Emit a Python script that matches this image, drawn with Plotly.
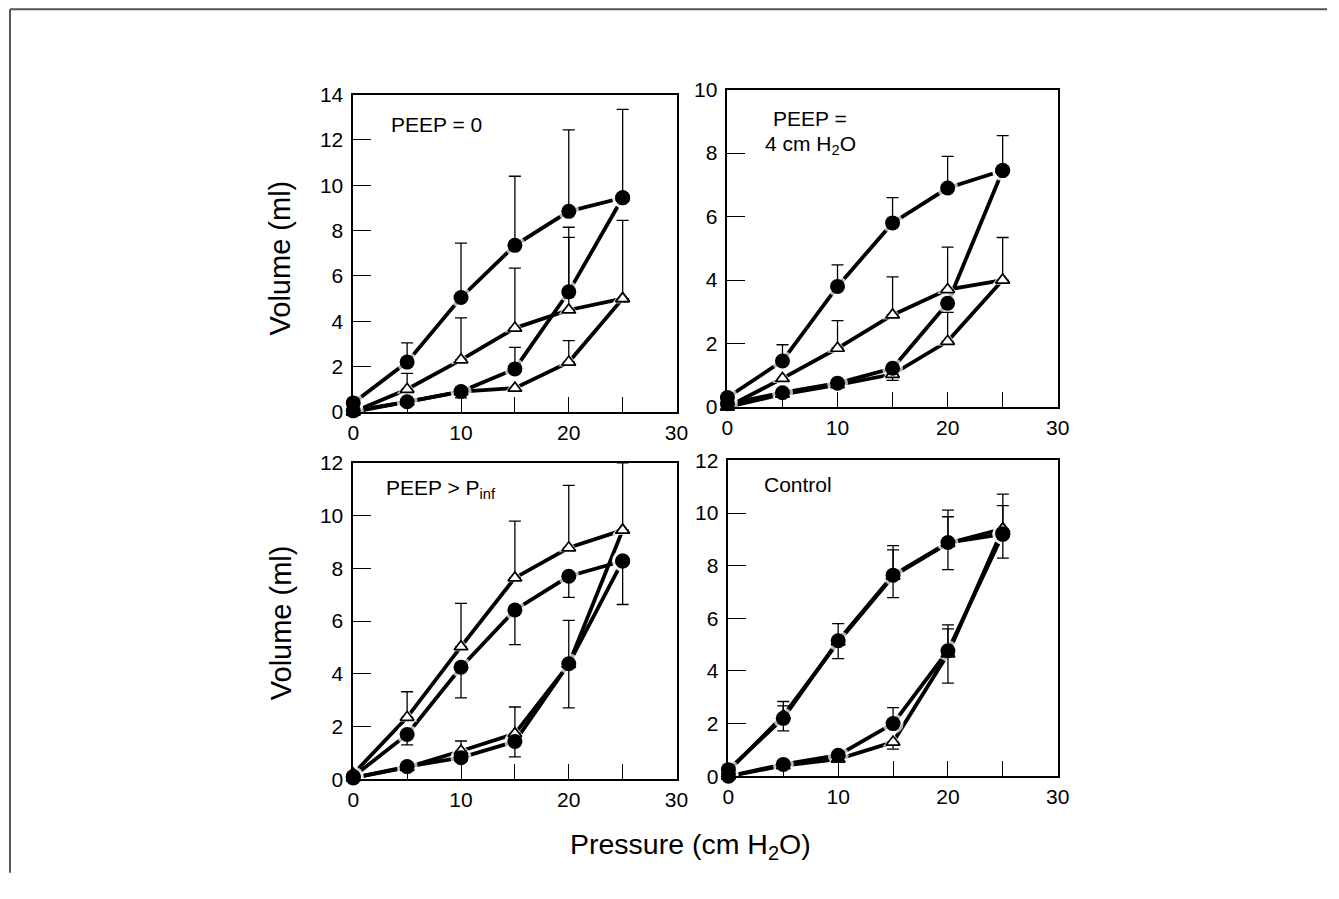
import plotly.graph_objects as go

W, H = 1339, 899
FONT = "Liberation Sans, Arial, Helvetica, sans-serif"

# Measured screenshot mapping (page px -> picture px): R = o + s * P.
# Positions below are given in reference-picture pixels and mapped back to page pixels.
SX, OX = 0.9887, 4.0
SY, OY = 0.975, 10.8


def px(X):
    return ((X - OX) / SX) / W


def py(Y):
    return 1 - ((Y - OY) / SY) / H


pressure = [0, 5, 10, 15, 20, 25]

# ---------- Panel A: PEEP = 0 ----------
a_circ_infl = [0.05, 0.45, 0.9, 1.9, 5.3, 9.45]
a_circ_defl = [0.4, 2.2, 5.05, 7.35, 8.85, 9.45]
a_tri_infl = [0.0, 0.45, 0.9, 1.05, 2.2, 5.0]
a_tri_defl = [0.0, 1.0, 2.3, 3.7, 4.5, 5.0]
a_circ_infl_top = [None, None, 1.06, 2.85, 7.7, None]
a_circ_infl_bot = [None, None, 0.62, None, None, None]
a_circ_defl_top = [None, 3.05, 7.45, 10.4, 12.45, 13.35]
a_circ_defl_bot = [None, None, None, None, None, None]
a_tri_infl_top = [None, None, None, None, 3.15, None]
a_tri_infl_bot = [None, None, None, None, None, None]
a_tri_defl_top = [None, 1.7, 4.15, 6.35, 8.15, 8.45]
a_tri_defl_bot = [None, None, None, None, None, None]

# ---------- Panel B: PEEP = 4 cm H2O ----------
b_circ_infl = [0.1, 0.45, 0.75, 1.22, 3.27, 7.45]
b_circ_defl = [0.3, 1.45, 3.8, 5.8, 6.9, 7.45]
b_tri_infl = [0.0, 0.4, 0.7, 1.03, 2.07, 4.0]
b_tri_defl = [0.0, 0.9, 1.85, 2.9, 3.7, 4.0]
b_circ_infl_top = [None, None, None, None, None, None]
b_circ_infl_bot = [None, None, None, None, None, None]
b_circ_defl_top = [None, 1.96, 4.48, 6.6, 7.9, 8.55]
b_circ_defl_bot = [None, None, None, None, None, None]
b_tri_infl_top = [None, None, None, None, 2.98, None]
b_tri_infl_bot = [None, None, None, 0.84, None, None]
b_tri_defl_top = [None, None, 2.72, 4.1, 5.04, 5.34]
b_tri_defl_bot = [None, None, None, None, None, None]

# ---------- Panel C: PEEP > Pinf ----------
c_circ_infl = [0.05, 0.48, 0.82, 1.43, 4.38, 8.28]
c_circ_defl = [0.1, 1.7, 4.25, 6.42, 7.7, 8.28]
c_tri_infl = [0.05, 0.45, 1.07, 1.73, 4.36, 9.45]
c_tri_defl = [0.2, 2.35, 5.03, 7.64, 8.78, 9.45]
c_circ_infl_top = [None, None, None, None, None, None]
c_circ_infl_bot = [None, None, None, 0.85, 2.71, None]
c_circ_defl_top = [None, None, None, None, None, None]
c_circ_defl_bot = [None, 1.3, 3.09, 5.11, 6.9, 6.63]
c_tri_infl_top = [None, None, 1.45, 2.74, 6.03, None]
c_tri_infl_bot = [None, None, None, None, None, None]
c_tri_defl_top = [None, 3.32, 6.67, 9.79, 11.15, 12.0]
c_tri_defl_bot = [None, None, None, None, None, None]

# ---------- Panel D: Control ----------
d_circ_infl = [0.0, 0.45, 0.8, 2.0, 4.77, 9.2]
d_circ_defl = [0.25, 2.2, 5.15, 7.64, 8.88, 9.2]
d_tri_infl = [0.0, 0.4, 0.65, 1.3, 4.65, 9.4]
d_tri_defl = [0.2, 2.3, 5.1, 7.6, 8.85, 9.4]
d_circ_infl_top = [None, None, None, 2.61, 5.75, None]
d_circ_infl_bot = [None, None, None, None, None, None]
d_circ_defl_top = [None, 2.67, 5.8, 8.6, 9.86, 10.28]
d_circ_defl_bot = [None, 1.72, 4.47, 6.79, 7.85, 8.29]
d_tri_infl_top = [None, None, None, None, 5.6, None]
d_tri_infl_bot = [None, None, None, 1.03, 3.54, None]
d_tri_defl_top = [None, 2.84, None, 8.76, 10.11, 10.72]
d_tri_defl_bot = [None, None, None, None, None, None]

panels = [
    dict(circ=(a_circ_infl, a_circ_defl), tri=(a_tri_infl, a_tri_defl),
         errs=[(a_circ_infl, a_circ_infl_top, a_circ_infl_bot), (a_circ_defl, a_circ_defl_top, a_circ_defl_bot),
               (a_tri_infl, a_tri_infl_top, a_tri_infl_bot), (a_tri_defl, a_tri_defl_top, a_tri_defl_bot)],
         ymax=14, xdom=(352, 676), ydom=(93.5, 411)),
    dict(circ=(b_circ_infl, b_circ_defl), tri=(b_tri_infl, b_tri_defl),
         errs=[(b_circ_infl, b_circ_infl_top, b_circ_infl_bot), (b_circ_defl, b_circ_defl_top, b_circ_defl_bot),
               (b_tri_infl, b_tri_infl_top, b_tri_infl_bot), (b_tri_defl, b_tri_defl_top, b_tri_defl_bot)],
         ymax=10, xdom=(727, 1058), ydom=(88.5, 406)),
    dict(circ=(c_circ_infl, c_circ_defl), tri=(c_tri_infl, c_tri_defl),
         errs=[(c_circ_infl, c_circ_infl_top, c_circ_infl_bot), (c_circ_defl, c_circ_defl_top, c_circ_defl_bot),
               (c_tri_infl, c_tri_infl_top, c_tri_infl_bot), (c_tri_defl, c_tri_defl_top, c_tri_defl_bot)],
         ymax=12, xdom=(352, 676), ydom=(462, 778.5)),
    dict(circ=(d_circ_infl, d_circ_defl), tri=(d_tri_infl, d_tri_defl),
         errs=[(d_circ_infl, d_circ_infl_top, d_circ_infl_bot), (d_circ_defl, d_circ_defl_top, d_circ_defl_bot),
               (d_tri_infl, d_tri_infl_top, d_tri_infl_bot), (d_tri_defl, d_tri_defl_top, d_tri_defl_bot)],
         ymax=12, xdom=(728, 1058), ydom=(459.5, 775.5)),
]

fig = go.Figure()
LW = 3.8


def loop(infl, defl):
    xs = list(pressure) + list(reversed(pressure[:-1]))
    ys = list(infl) + list(reversed(defl[:-1]))
    return xs, ys


for i, p in enumerate(panels):
    sfx = "" if i == 0 else str(i + 1)
    xa, ya = "x" + sfx, "y" + sfx
    common = dict(xaxis=xa, yaxis=ya, showlegend=False, hoverinfo="skip", cliponaxis=False)
    # lines
    for infl, defl in (p["tri"], p["circ"]):
        lx, ly = loop(infl, defl)
        fig.add_trace(go.Scatter(x=lx, y=ly, mode="lines",
                                 line=dict(color="black", width=LW), **common))
    # white halos around markers (gaps in the lines)
    hx, hy, hs, hsz = [], [], [], []
    for arr in p["tri"]:
        hx += pressure; hy += arr; hs += ["triangle-up"] * 6; hsz += [18] * 6
    for arr in p["circ"]:
        hx += pressure; hy += arr; hs += ["circle"] * 6; hsz += [21] * 6
    fig.add_trace(go.Scatter(x=hx, y=hy, mode="markers",
                             marker=dict(symbol=hs, size=hsz, color="white", line=dict(width=0)), **common))
    # error bars
    for vals, top, bot in p["errs"]:
        ex, ey, ep, em = [], [], [], []
        for xv, v, t, b in zip(pressure, vals, top, bot):
            if t is None and b is None:
                continue
            ex.append(xv); ey.append(v)
            ep.append(0 if t is None else t - v)
            em.append(0 if b is None else v - b)
        if ex:
            fig.add_trace(go.Scatter(x=ex, y=ey, mode="markers",
                                     marker=dict(size=1, color="rgba(0,0,0,0)"),
                                     error_y=dict(type="data", symmetric=False, array=ep, arrayminus=em,
                                                  color="black", thickness=1.3, width=6),
                                     **common))
    # open triangles
    for arr in p["tri"]:
        fig.add_trace(go.Scatter(x=pressure, y=arr, mode="markers",
                                 marker=dict(symbol="triangle-up", size=12, color="white",
                                             line=dict(color="black", width=1.7)), **common))
    # filled circles
    for arr in p["circ"]:
        fig.add_trace(go.Scatter(x=pressure, y=arr, mode="markers",
                                 marker=dict(symbol="circle", size=15, color="black",
                                             line=dict(color="black", width=0)), **common))

tickfont = dict(family=FONT, size=21, color="black")
layout = dict(width=W, height=H, margin=dict(l=0, r=0, t=0, b=0),
              paper_bgcolor="white", plot_bgcolor="white", showlegend=False)
for i, p in enumerate(panels):
    sfx = "" if i == 0 else str(i + 1)
    x0, x1 = p["xdom"]
    yt, yb = p["ydom"]
    layout["xaxis" + sfx] = dict(
        domain=[px(x0), px(x1)], anchor="y" + sfx, range=[0, 30],
        tickvals=[0, 5, 10, 15, 20, 25, 30], ticktext=["0", "", "10", "", "20", "", "30"],
        ticks="inside", ticklen=15, tickwidth=1.4, tickcolor="black",
        showline=True, mirror=True, linecolor="black", linewidth=1.5,
        showgrid=False, zeroline=False, tickfont=tickfont, ticklabelstandoff=1)
    layout["yaxis" + sfx] = dict(
        domain=[py(yb), py(yt)], anchor="x" + sfx, range=[0, p["ymax"]],
        tickvals=list(range(0, p["ymax"] + 1, 2)),
        ticks="inside", ticklen=18, tickwidth=1.4, tickcolor="black",
        showline=True, mirror=True, linecolor="black", linewidth=1.5,
        showgrid=False, zeroline=False, tickfont=tickfont, ticklabelstandoff=4)
fig.update_layout(**layout)


def ann(text, x, y, size, angle=0, xanchor="center", yanchor="middle", pad=1):
    fig.add_annotation(text=text, x=px(x), y=py(y), xref="paper", yref="paper",
                       showarrow=False, textangle=angle, xanchor=xanchor, yanchor=yanchor,
                       borderpad=pad, font=dict(family=FONT, size=size, color="black"))


ann("Volume (ml)", 279, 257, 29, angle=-90)
ann("Volume (ml)", 279, 622, 29, angle=-90)
ann("Pressure (cm H<sub>2</sub>O)", 690, 845, 28.5)
ann("PEEP = 0", 388, 123, 21, xanchor="left")
ann("PEEP =", 810, 130, 21, yanchor="bottom", pad=0)
ann("4 cm H<sub>2</sub>O", 810, 130, 21, yanchor="top", pad=0)
ann("PEEP > P<sub>inf</sub>", 383, 488, 21, xanchor="left")
ann("Control", 762, 484, 21, xanchor="left")

# page frame lines
top_y = max(py(8), 1 - 1.0 / H)
fig.add_shape(type="line", xref="paper", yref="paper", x0=px(8), x1=1, y0=top_y, y1=top_y,
              line=dict(color="#555555", width=2))
fig.add_shape(type="line", xref="paper", yref="paper", x0=px(8), x1=px(8), y0=top_y, y1=py(872),
              line=dict(color="#555555", width=2))

fig.write_html("out.html", config=dict(displayModeBar=False),
               post_script="document.body.style.margin='0';document.body.style.overflow='hidden';")
